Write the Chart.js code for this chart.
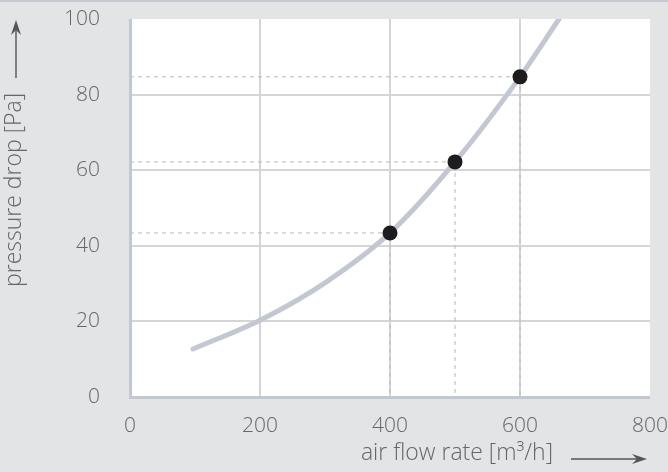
<!DOCTYPE html>
<html>
<head>
<meta charset="utf-8">
<script src="https://cdn.jsdelivr.net/npm/chart.js@4"></script>
<style>
  html, body { margin: 0; padding: 0; background: #e3e4e6; }
  #wrap { width: 668px; height: 472px; }
</style>
</head>
<body>
<div id="wrap"><canvas id="myChart" width="668" height="472"></canvas></div>
<script>
// curve
const curveFlow = [97, 200, 300, 400, 500, 600, 660];
const curveDrop = [12.7, 20.3, 30.2, 43.4, 62.2, 84.7, 100];

// marked operating points
const pointFlow = [400, 500, 600];
const pointDrop = [43.4, 62.2, 84.7];

const xTicks = [0, 200, 400, 600, 800];
const yTicks = [0, 20, 40, 60, 80, 100];

const xTitle = "air flow rate [m³/h]";
const yTitle = "pressure drop [Pa]";

const FONT = "'Open Sans', 'DejaVu Sans', sans-serif";
const TEXT = "#666666";

// dashed guide lines from each point to both axes
const guideSets = pointFlow.map((q, i) => ({
  type: "line",
  data: [
    { x: 0, y: pointDrop[i] },
    { x: q, y: pointDrop[i] },
    { x: q, y: 0 },
  ],
  borderColor: "#b4b8c2",
  borderWidth: 1,
  borderDash: [4, 4],
  pointRadius: 0,
  tension: 0,
  order: 3,
}));

const frame = {
  id: "frame",
  beforeDraw(chart) {
    const c = chart.ctx;
    const a = chart.chartArea;
    c.save();
    c.fillStyle = "#e3e4e6";
    c.fillRect(0, 0, chart.width, chart.height);
    c.fillStyle = "#c6c9d1";
    c.fillRect(0, 0, chart.width, 2);
    c.fillStyle = "#ffffff";
    c.fillRect(a.left, a.top, a.right - a.left, a.bottom - a.top);
    c.restore();
  },
  afterDraw(chart) {
    const c = chart.ctx;
    const a = chart.chartArea;
    c.save();
    // axis lines
    c.fillStyle = "#c3c7d1";
    c.fillRect(a.left - 1, a.top, 3, a.bottom - a.top + 1);
    c.fillRect(a.left - 1, a.bottom - 1, a.right - a.left + 1, 3);

    c.fillStyle = TEXT;
    c.strokeStyle = "#555555";
    c.lineWidth = 1.4;
    c.font = "300 23px " + FONT;

    // x title + arrow
    c.textAlign = "right";
    c.textBaseline = "middle";
    c.fillText(xTitle, 553, 453);
    arrow(c, 571, 459, 647, 459);

    // y title + arrow
    c.translate(14, 190);
    c.rotate(-Math.PI / 2);
    c.textAlign = "center";
    c.fillStyle = TEXT;
    c.fillText(yTitle, 0, 0);
    c.restore();
    c.save();
    c.strokeStyle = "#555555";
    c.lineWidth = 1.4;
    arrow(c, 16, 78, 16, 20);
    c.restore();
  },
};

function arrow(c, x1, y1, x2, y2) {
  const ang = Math.atan2(y2 - y1, x2 - x1);
  c.fillStyle = "#555555";
  c.beginPath();
  c.moveTo(x1, y1);
  c.lineTo(x2 - 10 * Math.cos(ang), y2 - 10 * Math.sin(ang));
  c.stroke();
  c.beginPath();
  c.moveTo(x2, y2);
  c.lineTo(x2 - 15 * Math.cos(ang) - 5 * Math.sin(ang), y2 - 15 * Math.sin(ang) + 5 * Math.cos(ang));
  c.lineTo(x2 - 10 * Math.cos(ang), y2 - 10 * Math.sin(ang));
  c.lineTo(x2 - 15 * Math.cos(ang) + 5 * Math.sin(ang), y2 - 15 * Math.sin(ang) - 5 * Math.cos(ang));
  c.closePath();
  c.fill();
}

const gridColor = (ctx) =>
  ctx.index === 0 || ctx.tick.value === ctx.scale.max ? "rgba(0,0,0,0)" : "#d5d5d8";

// stop the label overhang from pushing the plot area inwards
const noOverhang = (s) => {
  s.paddingTop = 0;
  s.paddingBottom = 0;
  s.paddingLeft = 0;
  s.paddingRight = 0;
};

new Chart(document.getElementById("myChart"), {
  type: "line",
  data: {
    datasets: [
      ...guideSets,
      {
        label: "curve",
        data: curveFlow.map((q, i) => ({ x: q, y: curveDrop[i] })),
        borderColor: "#c3c7d1",
        borderWidth: 5,
        borderCapStyle: "round",
        cubicInterpolationMode: "monotone",
        pointRadius: 0,
        order: 2,
      },
      {
        label: "points",
        data: pointFlow.map((q, i) => ({ x: q, y: pointDrop[i] })),
        showLine: false,
        pointRadius: 7.5,
        pointBackgroundColor: "#1f1c1d",
        pointBorderWidth: 0,
        order: 1,
      },
    ],
  },
  options: {
    responsive: false,
    animation: false,
    layout: { padding: { top: 19, right: 18, left: 0, bottom: 0 } },
    plugins: { legend: { display: false }, tooltip: { enabled: false } },
    scales: {
      x: {
        type: "linear",
        min: 0,
        max: 800,
        afterBuildTicks: (s) => { s.ticks = xTicks.map((v) => ({ value: v })); },
        afterFit: (s) => { s.height = 75; noOverhang(s); },
        grid: { color: gridColor, lineWidth: 2, drawTicks: false },
        border: { display: false },
        ticks: { color: TEXT, font: { family: FONT, size: 21, weight: 300 }, padding: 16 },
      },
      y: {
        min: 0,
        max: 100,
        afterBuildTicks: (s) => { s.ticks = yTicks.map((v) => ({ value: v })); },
        afterFit: (s) => { s.width = 130; noOverhang(s); },
        grid: { color: gridColor, lineWidth: 2, drawTicks: false },
        border: { display: false },
        ticks: { color: TEXT, font: { family: FONT, size: 21, weight: 300 }, padding: 30 },
      },
    },
  },
  plugins: [frame],
});
</script>
</body>
</html>
